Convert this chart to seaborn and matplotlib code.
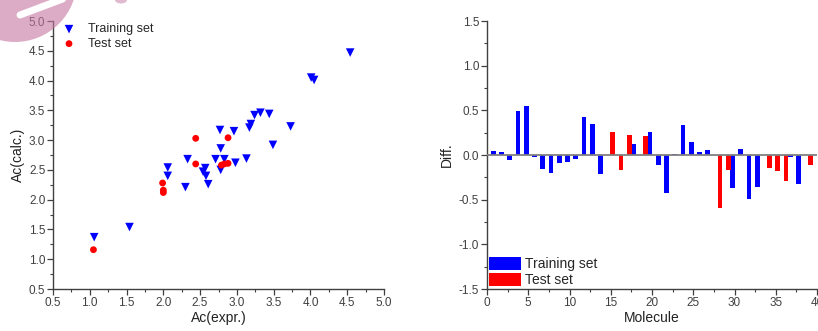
import numpy as np
import pandas as pd
import matplotlib
matplotlib.use("Agg")
import matplotlib.pyplot as plt
import seaborn as sns
from matplotlib.patches import Circle, Ellipse, Patch
from matplotlib.lines import Line2D
from matplotlib.ticker import MultipleLocator

# Scatter data: experimental vs calculated
train_expr = [1.06, 1.54, 2.06, 2.06, 2.30, 2.33, 2.54, 2.57, 2.58, 2.61, 2.71, 2.77, 2.78, 2.83,
              2.78, 2.96, 2.98, 3.13, 3.17, 3.19, 3.24, 3.32, 3.44, 3.49, 3.73, 4.01, 4.05, 4.54]
train_calc = [1.37, 1.54, 2.54, 2.40, 2.21, 2.68, 2.47, 2.53, 2.40, 2.26, 2.68, 3.17, 2.86, 2.68,
              2.50, 3.15, 2.62, 2.69, 3.21, 3.27, 3.42, 3.46, 3.44, 2.92, 3.23, 4.05, 4.01, 4.47]
test_expr = [1.05, 1.99, 2.00, 2.00, 2.44, 2.44, 2.88, 2.79, 2.83, 2.88]
test_calc = [1.16, 2.28, 2.16, 2.12, 3.03, 2.60, 3.04, 2.58, 2.60, 2.61]

# Residuals per molecule
molecule = list(range(1, 40))
diff = [0.04, 0.03, -0.06, 0.49, 0.55, -0.02, -0.16, -0.20, -0.09, -0.08,
        -0.05, 0.42, 0.35, -0.21, 0.26, -0.17, 0.22, 0.12, 0.21, 0.26,
        -0.11, -0.42, 0.015, 0.34, 0.15, 0.03, 0.06, -0.59, -0.17, -0.37,
        0.07, -0.49, -0.36, -0.14, -0.18, -0.29, -0.02, -0.32, -0.11]
test_ids = [15, 16, 17, 19, 28, 29, 34, 35, 36, 39]

set_names = ["Training set", "Test set"]
colors = {"Training set": "#0000ff", "Test set": "#ff0000"}

sns.set_theme(style="ticks")
plt.rcParams["font.family"] = ["Liberation Sans", "DejaVu Sans"]

fig = plt.figure(figsize=(8.18, 3.31), dpi=100)
ax1 = fig.add_axes([53 / 818, 42 / 331, 331 / 818, 268 / 331])
ax2 = fig.add_axes([487 / 818, 42 / 331, 330 / 818, 268 / 331])

spine_c = "#404040"
tick_c = "#404040"

# ---- left: scatter
sns.scatterplot(x=train_expr, y=train_calc, ax=ax1, marker="v", s=38, color=colors["Training set"],
                edgecolor="none", label="Training set", zorder=3)
sns.scatterplot(x=test_expr, y=test_calc, ax=ax1, marker="o", s=24, color=colors["Test set"],
                edgecolor="none", label="Test set", zorder=3)
ax1.set_xlim(0.5, 5.0)
ax1.set_ylim(0.5, 5.0)
ax1.xaxis.set_major_locator(MultipleLocator(0.5))
ax1.yaxis.set_major_locator(MultipleLocator(0.5))
ax1.xaxis.set_minor_locator(MultipleLocator(0.25))
ax1.yaxis.set_minor_locator(MultipleLocator(0.25))
ax1.xaxis.set_major_formatter(matplotlib.ticker.FormatStrFormatter("%.1f"))
ax1.yaxis.set_major_formatter(matplotlib.ticker.FormatStrFormatter("%.1f"))
ax1.set_xlabel("Ac(expr.)", fontsize=10, labelpad=2, color="#222222")
ax1.set_ylabel("Ac(calc.)", fontsize=10, labelpad=3, color="#222222")
ax1.legend(loc="upper left", bbox_to_anchor=(6 / 331, 1.005), frameon=False, fontsize=9,
           handlelength=1.0, handletextpad=1.0, borderpad=0.3, borderaxespad=0,
           labelspacing=0.2)

# ---- right: bars
df = pd.DataFrame({"Molecule": molecule, "Diff": diff})
df["Set"] = np.where(df["Molecule"].isin(test_ids), "Test set", "Training set")
df["pos"] = df["Molecule"] + np.where(df["Set"] == "Test set", 0.25, -0.25)
sns.barplot(data=df, x="pos", y="Diff", hue="Set", hue_order=set_names, palette=colors,
            native_scale=True, dodge=False, width=1.16, errorbar=None, legend=False,
            linewidth=0, saturation=1, ax=ax2, zorder=2)
ax2.axhline(0, color="#808080", lw=1.3, zorder=3)
ax2.set_xlim(0, 40)
ax2.set_ylim(-1.5, 1.5)
ax2.xaxis.set_major_locator(MultipleLocator(5))
ax2.xaxis.set_minor_locator(MultipleLocator(2.5))
ax2.yaxis.set_major_locator(MultipleLocator(0.5))
ax2.yaxis.set_minor_locator(MultipleLocator(0.25))
ax2.xaxis.set_major_formatter(matplotlib.ticker.FormatStrFormatter("%d"))
ax2.yaxis.set_major_formatter(matplotlib.ticker.FormatStrFormatter("%.1f"))
ax2.set_xlabel("Molecule", fontsize=10, labelpad=2, color="#222222")
ax2.set_ylabel("Diff.", fontsize=10, labelpad=4, color="#222222")
handles = [Patch(facecolor=colors[n], edgecolor="none", label=n) for n in set_names]
ax2.legend(handles=handles, loc="lower left", bbox_to_anchor=(0.003, 0.005), frameon=False,
           fontsize=10, handlelength=2.3, handleheight=1.08, handletextpad=0.3,
           borderpad=0.05, borderaxespad=0, labelspacing=0.12)

for ax in (ax1, ax2):
    sns.despine(ax=ax)
    for s in ("left", "bottom"):
        ax.spines[s].set_color(spine_c)
        ax.spines[s].set_linewidth(1.0)
    ax.tick_params(which="major", direction="out", length=4, width=0.9, color=spine_c,
                   labelsize=8.5, labelcolor=tick_c, pad=1.5)
    ax.tick_params(which="minor", direction="out", length=2.5, width=0.8, color=spine_c)
    ax.set_facecolor("white")

# faint pink watermark in the top-left corner
H = 3.31
fig.add_artist(Circle((0.15, H + 0.20), 0.62, transform=fig.dpi_scale_trans,
                      facecolor="#c576a0", edgecolor="none", alpha=0.6, zorder=10))
fig.add_artist(Line2D([0.20, 0.68], [H - 0.15, H + 0.03], transform=fig.dpi_scale_trans,
                      color="white", lw=5, solid_capstyle="round", zorder=11))
fig.add_artist(Ellipse((1.21, H - 0.0), 0.12, 0.07, transform=fig.dpi_scale_trans,
                       facecolor="#c576a0", edgecolor="none", alpha=0.5, zorder=10))

fig.savefig("out.png", dpi=100, facecolor="white")
